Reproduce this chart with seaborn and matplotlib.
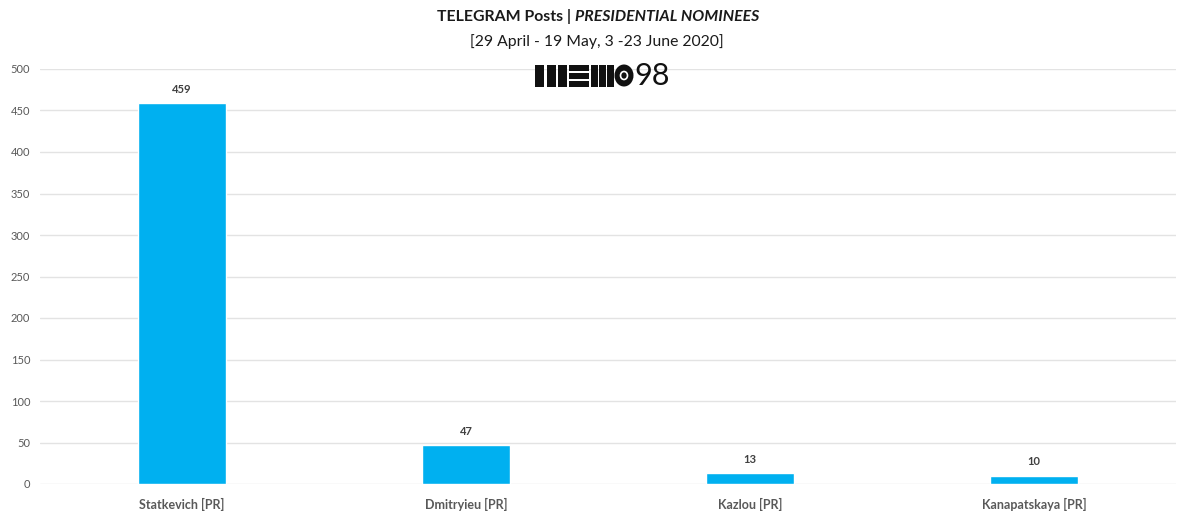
import pandas as pd
import numpy as np
import matplotlib.pyplot as plt
import matplotlib.patches as mpatches
import seaborn as sns

# values
candidates = ['Statkevich [PR]', 'Dmitryieu [PR]', 'Kazlou [PR]', 'Kanapatskaya [PR]']
posts = [459, 47, 13, 10]
yticks = [0, 50, 100, 150, 200, 250, 300, 350, 400, 450, 500]

df = pd.DataFrame({'candidate': candidates, 'posts': posts})

sns.set_style('white')
plt.rcParams['font.family'] = ['Lato', 'DejaVu Sans']

fig = plt.figure(figsize=(11.83, 5.23), dpi=100)
ax = fig.add_axes([40/1183, 39/523, 1136/1183, 415/523])

sns.barplot(data=df, x='candidate', y='posts', color='#00B0F0', saturation=1,
            width=0.31, ax=ax, zorder=3)
ax.bar_label(ax.containers[0], padding=6, fontsize=8, fontweight='bold', color='#404040')

ax.set_ylim(0, 500)
ax.set_yticks(yticks)
ax.yaxis.grid(True, color='#E3E3E3', lw=1, zorder=0)
ax.set_axisbelow(True)
sns.despine(ax=ax, left=True, bottom=True, top=True, right=True)
ax.tick_params(axis='both', length=0)
ax.tick_params(axis='y', labelsize=8, labelcolor='#595959', pad=7)
ax.tick_params(axis='x', labelsize=9, labelcolor='#595959', pad=10)
for lab in ax.get_xticklabels():
    lab.set_fontweight('bold')
ax.set_xlabel('')
ax.set_ylabel('')

# title: bold + bold italic
fig.canvas.draw()
r = fig.canvas.get_renderer()
t1 = fig.text(0, 1 - 17/523, 'TELEGRAM Posts | ', fontsize=11.4, fontweight='bold',
              color='#1a1a1a', va='center', ha='left')
t2 = fig.text(0, 1 - 17/523, 'PRESIDENTIAL NOMINEES', fontsize=11.4, fontweight='bold',
              style='italic', color='#1a1a1a', va='center', ha='left')
w1 = t1.get_window_extent(r).width
w2 = t2.get_window_extent(r).width
x0 = 598 - (w1 + w2) / 2
t1.set_x(x0 / 1183)
t2.set_x((x0 + w1) / 1183)
fig.text(597/1183, 1 - 42/523, '[29 April - 19 May, 3 -23 June 2020]', fontsize=11.3,
         color='#1a1a1a', ha='center', va='center')

# MEMO98 logo
lax = fig.add_axes([535/1183, 1 - 87/523, 142/1183, 23/523])
lax.set_xlim(0, 142)
lax.set_ylim(0, 23)
lax.axis('off')
for bx in [0, 11.5, 23]:
    lax.add_patch(mpatches.Rectangle((bx, 0.5), 9, 22, fc='#111111', lw=0))
for by in [0.5, 8.5, 16.5]:
    lax.add_patch(mpatches.Rectangle((34, by), 20, 6, fc='#111111', lw=0))
for bx in [56, 64, 72]:
    lax.add_patch(mpatches.Rectangle((bx, 0.5), 6.5, 22, fc='#111111', lw=0))
lax.add_patch(mpatches.Ellipse((89, 11.5), 19, 22, fc='#111111', lw=0))
lax.add_patch(mpatches.Ellipse((89, 11.5), 7, 8, fill=False, ec='white', lw=1.2))
lax.add_patch(mpatches.Ellipse((89, 11.5), 2.5, 3, fc='#111111', lw=0))
lax.text(99, 11, '98', fontsize=22, fontweight='normal', color='#111111',
         ha='left', va='center')

fig.savefig('out.png', dpi=100, facecolor='white')
